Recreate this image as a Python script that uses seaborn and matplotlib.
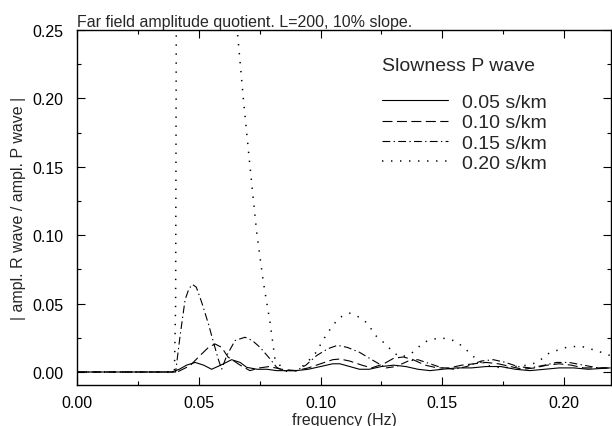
import matplotlib
matplotlib.use("Agg")
import matplotlib.pyplot as plt
import seaborn as sns
from matplotlib.ticker import MultipleLocator

# ---- data ----
f_005 = [0, 0.039, 0.042, 0.045, 0.0485, 0.052, 0.0553, 0.059, 0.0635, 0.067, 0.0697, 0.074, 0.078,
         0.082, 0.090, 0.095, 0.100, 0.105, 0.108, 0.112, 0.116, 0.120, 0.125, 0.130, 0.135, 0.140,
         0.145, 0.150, 0.156, 0.162, 0.168, 0.174, 0.180, 0.186, 0.192, 0.198, 0.204, 0.210, 0.219]
a_005 = [0, 0, 0.002, 0.005, 0.007, 0.005, 0.002, 0.005, 0.009, 0.007, 0.0034, 0.002, 0.002,
         0.001, 0.001, 0.002, 0.004, 0.006, 0.006, 0.004, 0.002, 0.002, 0.004, 0.005, 0.004, 0.002,
         0.001, 0.002, 0.003, 0.003, 0.004, 0.004, 0.002, 0.001, 0.002, 0.003, 0.003, 0.002, 0.003]

f_010 = [0, 0.041, 0.0423, 0.0464, 0.0505, 0.054, 0.0567, 0.0594, 0.062, 0.067, 0.071, 0.075, 0.079,
         0.084, 0.090, 0.095, 0.100, 0.105, 0.108, 0.112, 0.117, 0.121, 0.126, 0.130, 0.134, 0.138,
         0.143, 0.148, 0.153, 0.158, 0.163, 0.168, 0.173, 0.178, 0.183, 0.188, 0.193, 0.198, 0.203,
         0.208, 0.214, 0.219]
a_010 = [0, 0, 0.001, 0.0046, 0.012, 0.018, 0.0205, 0.018, 0.011, 0.005, 0.001, 0.003, 0.004,
         0.002, 0.001, 0.003, 0.006, 0.009, 0.0095, 0.008, 0.005, 0.003, 0.006, 0.010, 0.011, 0.009,
         0.005, 0.003, 0.003, 0.005, 0.006, 0.007, 0.006, 0.004, 0.002, 0.003, 0.005, 0.006, 0.005,
         0.003, 0.003, 0.003]

f_015 = [0, 0.0405, 0.0423, 0.0444, 0.046, 0.0474, 0.049, 0.0512, 0.054, 0.056, 0.058, 0.0594, 0.0615,
         0.0649, 0.069, 0.072, 0.0752, 0.0793, 0.082, 0.0847, 0.090, 0.094, 0.0984, 0.103, 0.107,
         0.111, 0.116, 0.123, 0.127, 0.131, 0.136, 0.140, 0.145, 0.150, 0.155, 0.160, 0.166, 0.171,
         0.176, 0.181, 0.186, 0.192, 0.197, 0.202, 0.208, 0.214, 0.219]
a_015 = [0, 0, 0.026, 0.053, 0.061, 0.064, 0.062, 0.051, 0.035, 0.022, 0.0095, 0.002, 0.012,
         0.023, 0.0254, 0.023, 0.018, 0.0095, 0.0034, 0.001, 0.001, 0.005, 0.012, 0.017, 0.0195,
         0.018, 0.0144, 0.007, 0.003, 0.004, 0.008, 0.009, 0.006, 0.003, 0.002, 0.004, 0.008, 0.009,
         0.007, 0.004, 0.003, 0.005, 0.007, 0.007, 0.005, 0.003, 0.003]

f_020 = [0, 0.0400, 0.0405, 0.0407, 0.0410, 0.0450, 0.0550, 0.0640, 0.0658, 0.0683, 0.0710, 0.0738,
         0.0765, 0.0793, 0.0813, 0.0840, 0.0860, 0.0900, 0.0940, 0.0980, 0.1020, 0.1050, 0.1080,
         0.1120, 0.1160, 0.1190, 0.1230, 0.1270, 0.1300, 0.1330, 0.1370, 0.1400, 0.1440, 0.1490,
         0.1530, 0.1560, 0.1600, 0.1630, 0.1660, 0.1700, 0.1750, 0.1800, 0.1850, 0.1890, 0.1940,
         0.2010, 0.2066, 0.2134, 0.2190]
a_020 = [0, 0, 0.05, 0.2, 0.4, 0.9, 1.2, 0.4, 0.25, 0.20, 0.151, 0.102,
         0.066, 0.036, 0.0095, 0.0034, 0.0005, 0.001, 0.006, 0.014, 0.026, 0.034, 0.040,
         0.043, 0.040, 0.036, 0.026, 0.020, 0.014, 0.011, 0.013, 0.018, 0.023, 0.025,
         0.024, 0.022, 0.016, 0.011, 0.007, 0.004, 0.003, 0.004, 0.005, 0.007, 0.014,
         0.018, 0.019, 0.0156, 0.012]

series_labels = ["0.05 s/km", "0.10 s/km", "0.15 s/km", "0.20 s/km"]
x_ticks = [0.00, 0.05, 0.10, 0.15, 0.20]
y_ticks = [0.00, 0.05, 0.10, 0.15, 0.20, 0.25]

title_text = "Far field amplitude quotient. L=200, 10% slope."
x_label = "frequency (Hz)"
y_label = "| ampl. R wave / ampl. P wave |"
legend_title = "Slowness P wave"

# ---- styling ----
sns.set_style("ticks")
plt.rcParams["font.family"] = ["Liberation Sans", "DejaVu Sans"]

fig = plt.figure(figsize=(6.12, 4.27), dpi=100)
ax = fig.add_axes([77 / 612, 1 - 386 / 427, (611 - 77) / 612, (386 - 31) / 427])

styles = ["-", (0, (9, 4)), (0, (7, 3, 1.2, 3)), (0, (0.9, 5))]
widths = [0.8, 0.8, 0.8, 1.1]
datasets = [(f_005, a_005), (f_010, a_010), (f_015, a_015), (f_020, a_020)]
for (fx, ay), ls, lw, lab in zip(datasets, styles, widths, series_labels):
    sns.lineplot(x=fx, y=ay, ax=ax, color="black", linewidth=lw, linestyle=ls,
                 label=lab, sort=False)

ax.set_xlim(0, 0.2193)
ax.set_ylim(-0.0095, 0.25)
ax.set_xticks(x_ticks)
ax.set_yticks(y_ticks)
ax.set_xticklabels([f"{v:.2f}" for v in x_ticks])
ax.set_yticklabels([f"{v:.2f}" for v in y_ticks])
ax.xaxis.set_minor_locator(MultipleLocator(0.025))
ax.yaxis.set_minor_locator(MultipleLocator(0.025))
ax.tick_params(which="both", direction="in", top=True, right=True, colors="black")
ax.tick_params(which="major", length=6, width=0.8, labelsize=11.5)
ax.tick_params(which="minor", length=3, width=0.8)
ax.tick_params(axis="y", pad=10)
ax.tick_params(axis="x", pad=7)
for sp in ax.spines.values():
    sp.set_linewidth(1.0)
    sp.set_color("black")

ax.set_xlabel(x_label, fontsize=11.5, labelpad=2)
ax.set_ylabel(y_label, fontsize=11.5, labelpad=4)
ax.set_title(title_text, loc="left", fontsize=11.5, pad=3)

leg = ax.legend(title=legend_title, loc="upper left", bbox_to_anchor=(0.571, 0.924),
                frameon=False, fontsize=14, title_fontsize=14, handlelength=3.4,
                handletextpad=0.7, labelspacing=0.14, borderpad=0, borderaxespad=0,
                alignment="left")
leg._legend_box.sep = 14
for line in leg.get_lines():
    line.set_linewidth(0.8)
leg.get_lines()[3].set_linewidth(1.1)

fig.savefig("out.png", dpi=100)
